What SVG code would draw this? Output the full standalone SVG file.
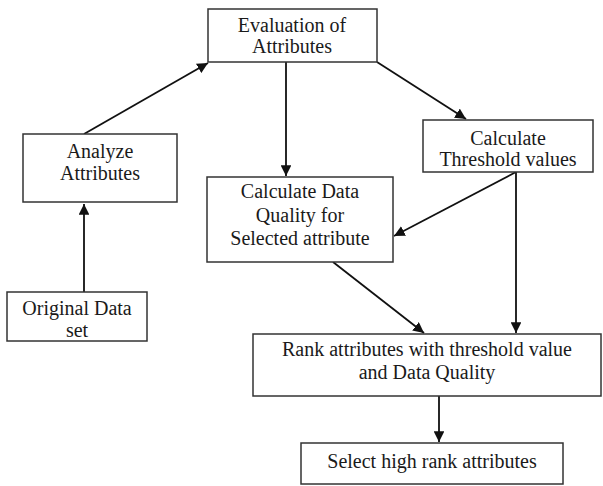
<svg xmlns="http://www.w3.org/2000/svg" width="603" height="486" viewBox="0 0 603 486">
<style>
.box{fill:#fff;stroke:#333;stroke-width:1.5}
.t{font-family:"Liberation Serif","Times New Roman",serif;font-size:20px;fill:#1a1a1a;text-anchor:middle}
.c{stroke:#111;stroke-width:1.8;fill:none;marker-end:url(#ah)}
</style>
<defs>
<marker id="ah" viewBox="0 0 10 10" refX="10" refY="5" markerWidth="6" markerHeight="6" markerUnits="strokeWidth" orient="auto">
<path d="M0,0 L10,5 L0,10 z" fill="#111"/>
</marker>
</defs>
<rect width="603" height="486" fill="#fff"/>
<g id="connectors">
<line class="c" x1="84" y1="134" x2="208" y2="63"/>
<line class="c" x1="84" y1="292" x2="84" y2="204"/>
<line class="c" x1="286" y1="62" x2="286" y2="176"/>
<line class="c" x1="377" y1="62" x2="466" y2="119"/>
<line class="c" x1="516" y1="172" x2="394" y2="236"/>
<line class="c" x1="516" y1="172" x2="516" y2="333"/>
<line class="c" x1="333" y1="262" x2="424" y2="333"/>
<line class="c" x1="439" y1="396" x2="439" y2="442"/>
</g>
<g id="evaluation">
<rect class="box" x="208" y="9" width="169" height="53"/>
<text class="t" x="292" y="32">Evaluation of</text>
<text class="t" x="292" y="53">Attributes</text>
</g>
<g id="analyze">
<rect class="box" x="23" y="134" width="154" height="68"/>
<text class="t" x="100" y="158">Analyze</text>
<text class="t" x="100" y="180">Attributes</text>
</g>
<g id="original">
<rect class="box" x="7" y="292" width="140" height="49"/>
<text class="t" x="77" y="315">Original Data</text>
<text class="t" x="77" y="337">set</text>
</g>
<g id="dataquality">
<rect class="box" x="207" y="177" width="186" height="85"/>
<text class="t" x="300" y="198">Calculate Data</text>
<text class="t" x="300" y="222">Quality for</text>
<text class="t" x="300" y="245">Selected attribute</text>
</g>
<g id="threshold">
<rect class="box" x="423" y="120" width="170" height="52"/>
<text class="t" x="508" y="145">Calculate</text>
<text class="t" x="508" y="166">Threshold values</text>
</g>
<g id="rank">
<rect class="box" x="253" y="334" width="348" height="62"/>
<text class="t" x="427" y="356">Rank attributes with threshold value</text>
<text class="t" x="427" y="379">and Data Quality</text>
</g>
<g id="select">
<rect class="box" x="301" y="443" width="262" height="41"/>
<text class="t" x="432" y="468">Select high rank attributes</text>
</g>
</svg>
